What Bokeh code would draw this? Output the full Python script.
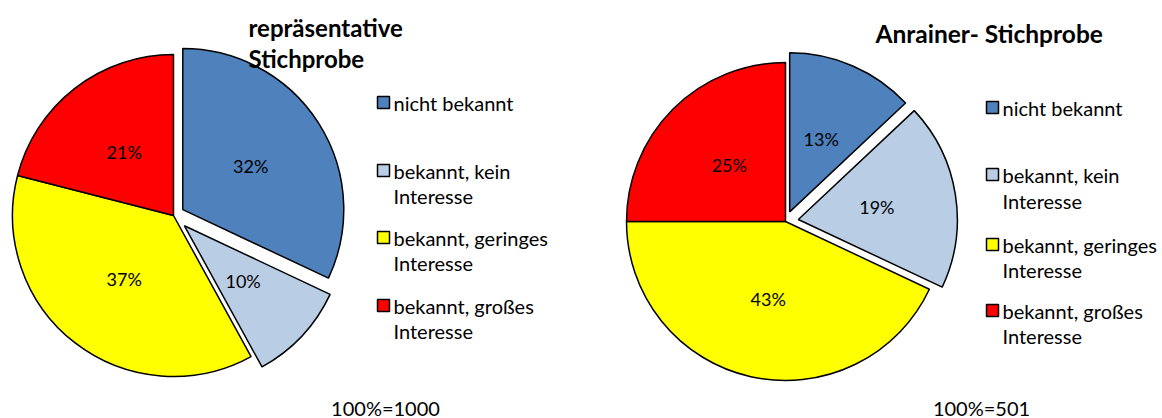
import math
from bokeh.plotting import figure
from bokeh.models import Range1d, ColumnDataSource
from bokeh.core.properties import value
from bokeh.embed import file_html
from bokeh.resources import INLINE

categories = ["nicht bekannt", "bekannt, kein Interesse", "bekannt, geringes Interesse", "bekannt, großes Interesse"]
legend_lines = [["nicht bekannt"], ["bekannt, kein", "Interesse"], ["bekannt, geringes", "Interesse"], ["bekannt, großes", "Interesse"]]
colors = ["#4F81BD", "#B9CDE5", "#FFFF00", "#FF0000"]
left_values = [32, 10, 37, 21]
right_values = [13, 19, 43, 25]
left_title = ["repräsentative", "Stichprobe"]
right_title = ["Anrainer- Stichprobe"]
left_footer = "100%=1000"
right_footer = "100%=501"

W, H = 1162, 418
FONT = value("Lato")

p = figure(width=W, height=H, output_backend="svg", toolbar_location=None,
           x_range=Range1d(0, W), y_range=Range1d(0, H), min_border=0)
p.axis.visible = False
p.grid.visible = False
p.outline_line_color = None
p.background_fill_color = "white"
p.border_fill_color = "white"


def Y(img_y):
    return H - img_y


def draw_pie(cx, cy, r, vals, explode):
    total = sum(vals)
    cum = 0.0
    xs, ys, sa, ea, lx, ly, labels = [], [], [], [], [], [], []
    for v, ex in zip(vals, explode):
        a0 = 90 - cum / total * 360
        cum += v
        a1 = 90 - cum / total * 360
        mid = math.radians((a0 + a1) / 2)
        vx = cx + ex * math.cos(mid)
        vy = Y(cy) + ex * math.sin(mid)
        xs.append(vx)
        ys.append(vy)
        sa.append(math.radians(a1))
        ea.append(math.radians(a0))
        lx.append(vx + 0.5 * r * math.cos(mid))
        ly.append(vy + 0.5 * r * math.sin(mid))
        labels.append(f"{v}%")
    src = ColumnDataSource(dict(x=xs, y=ys, sa=sa, ea=ea, c=colors))
    p.wedge(x="x", y="y", radius=r, start_angle="sa", end_angle="ea",
            direction="anticlock", fill_color="c", line_color="black", line_width=1.5, source=src)
    p.text(x=lx, y=ly, text=labels, text_font=FONT, text_font_size="18px",
           text_align="center", text_baseline="middle", text_color="black")


def draw_legend(sx, tx, ys_first, ys_second):
    for i, lines in enumerate(legend_lines):
        p.rect(x=[sx], y=[Y(ys_first[i])], width=12, height=12, fill_color=colors[i],
               line_color="black", line_width=1.5)
        p.text(x=[tx], y=[Y(ys_first[i])], text=[lines[0]], text_font=FONT, text_font_size="20px",
               text_baseline="middle", text_color="black")
        if len(lines) > 1:
            p.text(x=[tx], y=[Y(ys_second[i])], text=[lines[1]], text_font=FONT, text_font_size="20px",
                   text_baseline="middle", text_color="black")


draw_pie(173, 215, 161, left_values, [11, 15, 0, 0])
draw_pie(785, 221, 159, right_values, [10.5, 13, 0, 0])

draw_legend(383, 393, [102, 170, 237, 305], [None, 195, 262, 330])
draw_legend(992, 1002, [107, 174, 244, 310], [None, 200, 269, 335])

p.text(x=[248, 248], y=[Y(27), Y(58)], text=left_title, text_font=FONT, text_font_size="24px",
       text_font_style="bold", text_baseline="middle", text_color="black")
p.text(x=[875], y=[Y(33)], text=right_title, text_font=FONT, text_font_size="24.5px",
       text_font_style="bold", text_baseline="middle", text_color="black")
p.text(x=[385], y=[Y(407)], text=[left_footer], text_font=FONT, text_font_size="20px",
       text_align="center", text_baseline="middle", text_color="black")
p.text(x=[981], y=[Y(407)], text=[right_footer], text_font=FONT, text_font_size="20px",
       text_align="center", text_baseline="middle", text_color="black")

open("out.html", "w").write(file_html(p, INLINE))
